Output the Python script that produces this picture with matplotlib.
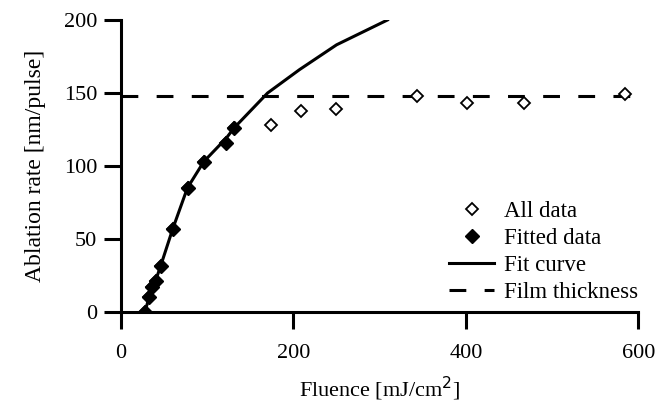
import numpy as np
import matplotlib
matplotlib.use("Agg")
import matplotlib.pyplot as plt
from matplotlib.lines import Line2D

plt.rcParams['font.family'] = ['Liberation Serif', 'DejaVu Serif']
plt.rcParams['font.size'] = 16

# fitted points (filled)
fit_fluence = [27.6, 32.6, 35.7, 40.3, 46.2, 59.7, 77.1, 95.7, 121.7, 131.4]
fit_rate = [0, 10.3, 16.9, 21.4, 31.7, 56.6, 85.2, 102.7, 115.5, 126.2]

# remaining measurements (open)
extra_fluence = [174, 209, 249.7, 343.8, 401.5, 467.4, 584.9]
extra_rate = [127.9, 137.9, 139.0, 148.2, 143.0, 143.4, 149.1]

# fit curve vertices
curve_fluence = [27.6, 32.6, 36, 41, 46.2, 60, 77, 96, 122, 131, 170, 207, 250, 309]
curve_rate = [0, 10, 17, 23, 32, 57, 85, 103, 119, 126, 150, 166, 183, 200]

film_thickness = 148

all_fluence = fit_fluence + extra_fluence
all_rate = fit_rate + extra_rate

fig = plt.figure(figsize=(6.56, 4.03), dpi=100)
ax = fig.add_axes([0.1845, 0.2258, 0.7886, 0.7246])

ax.plot([0, 600], [film_thickness, film_thickness], color='black', lw=2.2,
        dashes=(5.5, 6), label='Film thickness')
ax.plot(curve_fluence, curve_rate, color='black', lw=2.2, label='Fit curve')
ax.plot(all_fluence, all_rate, 'D', ms=6.5, mfc='white', mec='black', mew=1.3,
        label='All data')
ax.plot(fit_fluence, fit_rate, 'D', ms=7.5, mfc='black', mec='black', mew=1,
        label='Fitted data')

ax.set_xlim(0, 600)
ax.set_ylim(0, 200)
ax.set_xticks([0, 200, 400, 600])
ax.set_yticks([0, 50, 100, 150, 200])
ax.spines['top'].set_visible(False)
ax.spines['right'].set_visible(False)
for s in ('left', 'bottom'):
    ax.spines[s].set_linewidth(2.2)
ax.tick_params(axis='both', length=12, width=2.2, direction='out')
ax.tick_params(axis='x', pad=11)
ax.tick_params(axis='y', pad=5)

ax.set_xlabel('Fluence [mJ/cm$^2$]', labelpad=8.5)
ax.set_ylabel('Ablation rate [nm/pulse]', fontsize=17, labelpad=13)

handles = [
    Line2D([], [], ls='none', marker='D', ms=6.5, mfc='white', mec='black', mew=1.3),
    Line2D([], [], ls='none', marker='D', ms=7.5, mfc='black', mec='black'),
    Line2D([], [], color='black', lw=2.2),
    Line2D([], [], color='black', lw=2.2, dashes=(5.5, 6)),
]
labels = ['All data', 'Fitted data', 'Fit curve', 'Film thickness']
ax.legend(handles, labels, loc='lower right', bbox_to_anchor=(1.0, 0.03),
          frameon=False, handlelength=1.95, handletextpad=0.45,
          labelspacing=0.27, borderaxespad=0, borderpad=0, fontsize=16.5)

fig.savefig('out.png', dpi=100)
